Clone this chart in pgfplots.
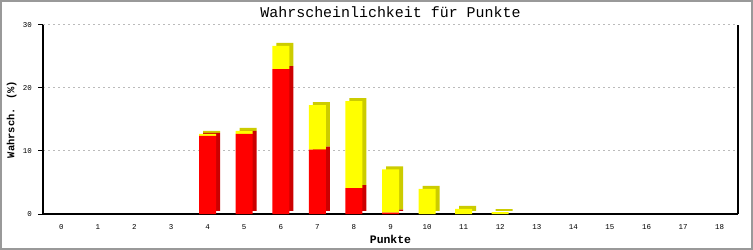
\documentclass[border=0pt]{standalone}
\usepackage{pgfplots}
\usepackage{pgfplotstable}
\pgfplotsset{compat=1.18}
\usepackage{fontspec}
\setmainfont{Liberation Mono}
\definecolor{fr}{HTML}{FF0000}
\definecolor{sr}{HTML}{CC0000}
\definecolor{fy}{HTML}{FFFF00}
\definecolor{sy}{HTML}{CCCC00}
\definecolor{gridc}{HTML}{BBBBBB}
\definecolor{framec}{HTML}{999999}

\pgfplotstableread{
x  red   yellow
4  12.4  0.3
5  12.7  0.5
6  23.0  3.7
7  10.2  7.1
8  4.1   13.8
9  0.2   6.9
10 0     4.0
11 0     0.8
12 0     0.3
}\data

\pgfplotsset{base/.style={scale only axis, width=695bp, height=189bp,
  xmin=-0.5, xmax=18.5, ymin=0, ymax=30, ybar stacked, bar width=17bp}}

\begin{document}
\begin{tikzpicture}
\useasboundingbox (-43bp,-36bp) rectangle (710bp,214bp);
\fill[white] (-43bp,-36bp) rectangle (710bp,214bp);
\draw[framec, line width=2bp] (-42bp,-35bp) rectangle (709bp,213bp);
\begin{axis}[base, axis line style={draw=none}, xtick=\empty, ytick={10,20,30},
  yticklabels={}, major tick length=0pt, ymajorgrids,
  grid style={gridc, line width=1bp, dash pattern=on 2bp off 3bp}]
\addplot[fill=sr, draw=none, xshift=4bp, yshift=3bp] table[x=x,y=red]{\data};
\addplot[fill=sy, draw=none, xshift=4bp, yshift=3bp] table[x=x,y=yellow]{\data};
\end{axis}
\begin{axis}[base, clip=false, axis x line=bottom, axis y line=left,
  axis line style={-, black, line width=1.2bp},
  xtick={0,...,18}, ytick={0,10,20,30},
  x tick style={draw=none}, y tick style={black, line width=1bp},
  tick align=outside, major tick length=5bp,
  /pgf/number format/assume math mode=true,
  xticklabel style={font=\fontsize{7.5}{8}\selectfont, inner sep=0pt, anchor=north, yshift=-5bp},
  yticklabel style={font=\fontsize{7.5}{8}\selectfont, inner sep=0pt, anchor=east, xshift=-6bp},
  title={Wahrscheinlichkeit für Punkte},
  title style={font=\fontsize{15}{15}\selectfont, at={(axis description cs:0.5,1.038)}, anchor=center},
  xlabel={Punkte},
  xlabel style={font=\bfseries\fontsize{11.5}{12}\selectfont, at={(axis description cs:0.5,-0.132)}, anchor=center},
  ylabel={Wahrsch. (\%)},
  ylabel style={font=\bfseries\fontsize{10.5}{11}\selectfont, at={(axis description cs:-0.045,0.5)}, anchor=center, rotate=0},
]
\addplot[fill=fr, draw=none] table[x=x,y=red]{\data};
\addplot[fill=fy, draw=none] table[x=x,y=yellow]{\data};
\draw[black, line width=1.2bp] (rel axis cs:1,0) -- (rel axis cs:1,1);
\end{axis}
\end{tikzpicture}
\end{document}
